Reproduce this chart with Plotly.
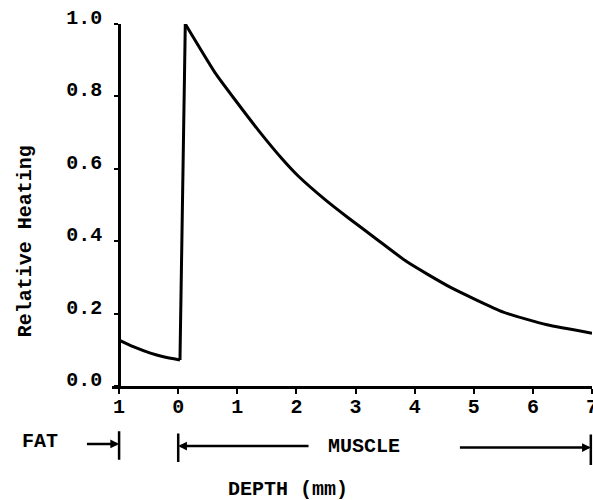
import plotly.graph_objects as go

# Data
fat_x = [-1.0, -0.75, -0.47, -0.25, 0.03]
fat_y = [0.127, 0.108, 0.091, 0.081, 0.072]
muscle_x = [0.12, 0.625, 0.964, 1.354, 1.76, 2.03, 2.49, 2.88, 3.33, 3.87, 4.6, 5.5, 6.24, 7.0]
muscle_y = [1.0, 0.865, 0.790, 0.707, 0.627, 0.580, 0.514, 0.464, 0.409, 0.343, 0.273, 0.204, 0.169, 0.146]

x_ticks = [-1, 0, 1, 2, 3, 4, 5, 6, 7]
x_ticktext = ["1", "0", "1", "2", "3", "4", "5", "6", "7"]
y_ticks = [0.0, 0.2, 0.4, 0.6, 0.8, 1.0]
y_ticktext = ["0.0", "0.2", "0.4", "0.6", "0.8", "1.0"]

FONT = dict(family="Liberation Mono", size=20, color="black", weight="bold")
LW = 2.5
CURVE = dict(color="black", width=3)

fig = go.Figure()
fig.add_trace(go.Scatter(x=fat_x, y=fat_y, mode="lines",
                         line=dict(**CURVE, shape="spline", smoothing=0.6), showlegend=False))
# jump at the fat/muscle interface
fig.add_trace(go.Scatter(x=[fat_x[-1], muscle_x[0]], y=[fat_y[-1], muscle_y[0]], mode="lines",
                         line=CURVE, showlegend=False))
fig.add_trace(go.Scatter(x=muscle_x, y=muscle_y, mode="lines",
                         line=dict(**CURVE, shape="spline", smoothing=0.5), showlegend=False))

ann = []
# y axis title
ann.append(dict(x=-0.181, y=0.40, xref="paper", yref="paper", text="Relative Heating",
                textangle=-90, showarrow=False, font=FONT, xanchor="center", yanchor="middle"))
# FAT label and arrow
ann.append(dict(x=-0.15, y=-0.152, xref="paper", yref="paper", text="FAT",
                showarrow=False, font=FONT, xanchor="center", yanchor="middle"))
ARW = dict(text="", showarrow=True, arrowhead=2, arrowsize=0.7, arrowwidth=LW,
           arrowcolor="black", standoff=0, startstandoff=0, ay=0, ayref="pixel", axref="x",
           xref="x", yref="paper")
ann.append(dict(x=-1.0, y=-0.16, ax=-1.57, **ARW))
# MUSCLE label and arrows
ann.append(dict(x=3.15, y=-0.168, xref="x", yref="paper", text="MUSCLE", showarrow=False,
                font=FONT, xanchor="center", yanchor="middle"))
ann.append(dict(x=0.0, y=-0.166, ax=2.23, **ARW))
ann.append(dict(x=6.98, y=-0.17, ax=4.74, **ARW))
# end bars
for bx, b_bottom, b_len in [(-1.0, -0.204, 30), (0.0, -0.21, 30), (6.98, -0.218, 32)]:
    ann.append(dict(x=bx, y=b_bottom, xref="x", yref="paper", ax=0, ay=-b_len,
                    axref="pixel", ayref="pixel", text="", showarrow=True, arrowhead=0,
                    arrowwidth=LW, arrowcolor="black", standoff=0, startstandoff=0))
# x axis title
ann.append(dict(x=1.86, y=-0.287, xref="x", yref="paper", text="DEPTH (mm)", showarrow=False,
                font=FONT, xanchor="center", yanchor="middle"))

fig.update_layout(
    width=593, height=500,
    margin=dict(l=112, r=1, t=24, b=114, autoexpand=False),
    paper_bgcolor="white", plot_bgcolor="white",
    annotations=ann,
    xaxis=dict(range=[-1.12, 7.0], tickvals=x_ticks, ticktext=x_ticktext,
               showline=True, linecolor="black", linewidth=LW,
               ticks="outside", ticklen=5, tickwidth=2, tickcolor="black",
               showgrid=False, zeroline=False, tickfont=FONT, ticklabelstandoff=-5,
               ticklabeloverflow="allow", automargin=False),
    yaxis=dict(range=[0, 1.0], tickvals=y_ticks, ticktext=y_ticktext,
               anchor="free", position=0.12 / 8.12,
               showline=True, linecolor="black", linewidth=LW,
               ticks="outside", ticklen=4, tickwidth=2, tickcolor="black",
               showgrid=False, zeroline=False, tickfont=FONT, ticklabelstandoff=8,
               ticklabelshift=-7, automargin=False),
)

fig.write_html("out.html", config={"displayModeBar": False},
               post_script="document.body.style.margin='0';")
